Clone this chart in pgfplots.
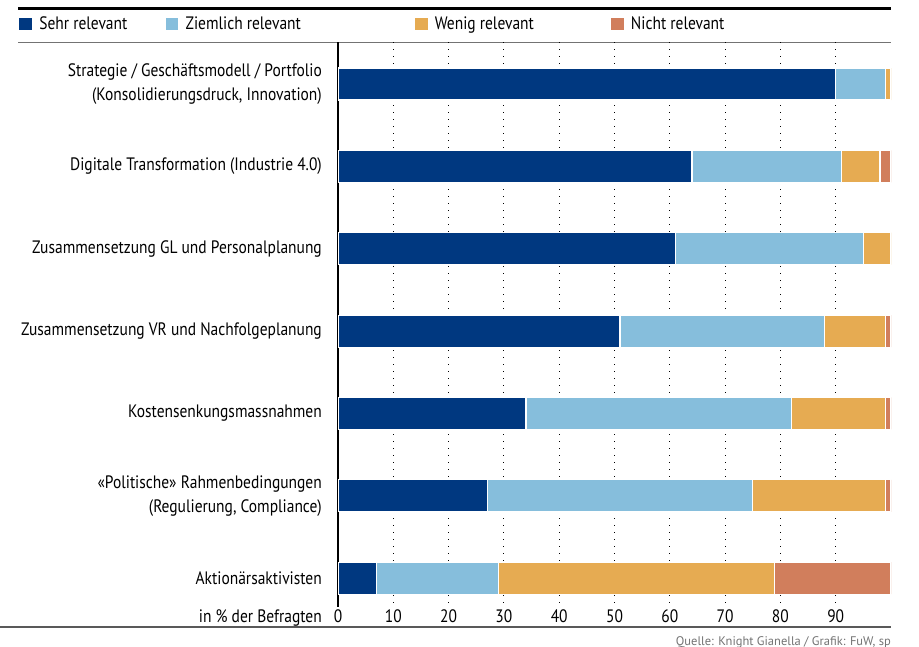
\documentclass[border=0pt]{standalone}
\usepackage{pgfplots}
\pgfplotsset{compat=1.18}
\usepackage{pgfplotstable}
\usepackage{fontspec}
\setmainfont{PT Sans}[FakeStretch=0.86]
\newfontfamily\srcfont{PT Sans}
\definecolor{cSehr}{RGB}{0,56,128}
\definecolor{cZiem}{RGB}{134,190,220}
\definecolor{cWenig}{RGB}{230,171,82}
\definecolor{cNicht}{RGB}{209,126,92}
\newcommand\lab{\fontsize{18bp}{24bp}\selectfont}

\pgfplotstableread{
idx sehr ziem wenig nicht
0 90 9 1 0
1 64 27 7 2
2 61 34 5 0
3 51 37 11 1
4 34 48 17 1
5 27 48 24 1
6 7 22 50 21
}\data

\begin{document}
\begin{tikzpicture}
\path[use as bounding box] (0,0) rectangle (919bp,-647bp);
\draw[black, line width=3bp] (18bp,-8bp) -- (891bp,-8bp);
\draw[black!55, line width=1bp] (18bp,-42bp) -- (891bp,-42bp);
\draw[black!65, line width=1.5bp] (0bp,-627bp) -- (891bp,-627bp);
\begin{axis}[
 at={(338bp,-42bp)}, anchor=north west,
 scale only axis, width=553bp, height=565bp,
 xbar stacked, bar width=32bp,
 xmin=0, xmax=100, ymin=-0.51, ymax=6.35, y dir=reverse,
 axis y line*=left, axis x line*=bottom,
 x axis line style={draw=none},
 y axis line style={black, line width=1.4bp},
 xtick={0,10,...,90}, ytick={0,...,6},
 major tick length=0pt,
 xmajorgrids,
 grid style={black, line width=1.1bp, dash pattern=on 1.1bp off 5.9bp},
 /pgf/number format/assume math mode=true,
 xticklabel style={font=\lab, anchor=base, inner sep=0pt, yshift=-15bp},
 yticklabel style={font=\lab, align=right, inner sep=0pt, xshift=-16bp},
 yticklabels={
  {Strategie / Geschäftsmodell / Portfolio\\(Konsolidierungsdruck, Innovation)},
  {Digitale Transformation (Industrie 4.0)},
  {Zusammensetzung GL und Personalplanung},
  {Zusammensetzung VR und Nachfolgeplanung},
  {Kostensenkungsmassnahmen},
  {«Politische» Rahmenbedingungen\\(Regulierung, Compliance)},
  {Aktionärsaktivisten}},
 legend columns=4,
 legend style={at={(axis description cs:0,1)}, anchor=west, xshift=-320bp, yshift=18bp,
   draw=none, fill=none, inner sep=0pt, font=\lab,
   nodes={inner sep=0pt},
   /tikz/every odd column/.append style={column sep=6bp}},
 legend image code/.code={\fill[#1] (0bp,-7bp) rectangle (14bp,7bp);},
]
\addplot[fill=cSehr, draw=white, line width=1.2bp] table[x=sehr, y=idx] {\data};
\addlegendentry{\makebox[125bp][l]{Sehr relevant}}
\addplot[fill=cZiem, draw=white, line width=1.2bp] table[x=ziem, y=idx] {\data};
\addlegendentry{\makebox[228bp][l]{Ziemlich relevant}}
\addplot[fill=cWenig, draw=white, line width=1.2bp] table[x=wenig, y=idx] {\data};
\addlegendentry{\makebox[175bp][l]{Wenig relevant}}
\addplot[fill=cNicht, draw=white, line width=1.2bp] table[x=nicht, y=idx] {\data};
\addlegendentry{Nicht relevant}
\end{axis}
\node[anchor=base east, font=\lab, inner sep=0pt] at (322bp,-622bp) {in \% der Befragten};
\node[anchor=base east, font=\srcfont\fontsize{12.5bp}{14bp}\selectfont, text=black!55, inner sep=0pt] at (891bp,-645bp) {Quelle: Knight Gianella / Grafik: FuW, sp};
\end{tikzpicture}
\end{document}
